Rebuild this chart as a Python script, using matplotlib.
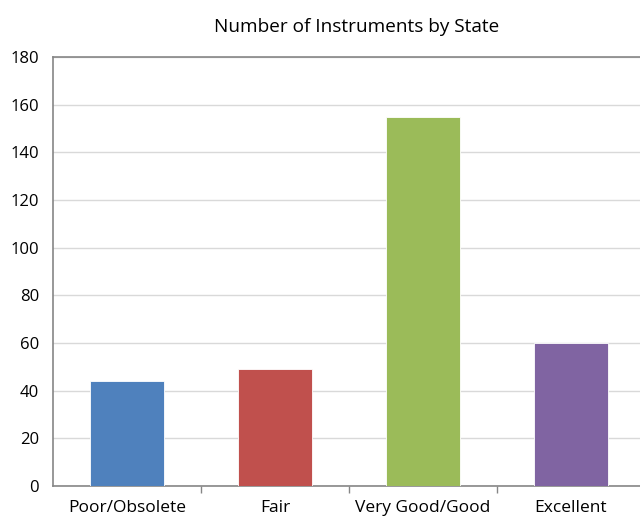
import numpy as np
import matplotlib
matplotlib.use("Agg")
import matplotlib.pyplot as plt

# data
states = ['Poor/Obsolete', 'Fair', 'Very Good/Good', 'Excellent']
counts = [44, 49, 155, 60]
colors = ['#4F81BD', '#C0504D', '#9BBB59', '#8064A2']

plt.rcParams['font.family'] = ['Open Sans', 'DejaVu Sans']

fig = plt.figure(figsize=(6.4, 5.19), dpi=100)
ax = fig.add_axes([53 / 640, 1 - 486 / 519, 592 / 640, 429 / 519])

x = np.arange(len(states))
ax.bar(x, counts, width=0.5, color=colors, edgecolor='white', linewidth=0.6, zorder=3)

ax.set_xlim(-0.5, len(states) - 0.5)
ax.set_ylim(0, 180)
ax.set_yticks(np.arange(0, 181, 20))
ax.yaxis.grid(True, color='#D9D9D9', linewidth=1.0, zorder=0)
ax.tick_params(axis='y', length=0, pad=10, labelsize=12, colors='#000000')

ax.set_xticks(x)
ax.set_xticklabels(states, fontsize=12.5)
ax.tick_params(axis='x', which='major', length=0, pad=10)
ax.set_xticks(np.arange(0.5, len(states) - 0.5, 1), minor=True)
ax.tick_params(axis='x', which='minor', length=5, direction='out', color='#868686', width=1)

for side in ['left', 'bottom', 'top']:
    ax.spines[side].set_color('#868686')
    ax.spines[side].set_linewidth(1.2)
ax.spines['right'].set_visible(False)

fig.text(357 / 640, 1 - 27 / 519, 'Number of Instruments by State', ha='center', va='center', fontsize=13.7)

fig.savefig('out.png', dpi=100)
